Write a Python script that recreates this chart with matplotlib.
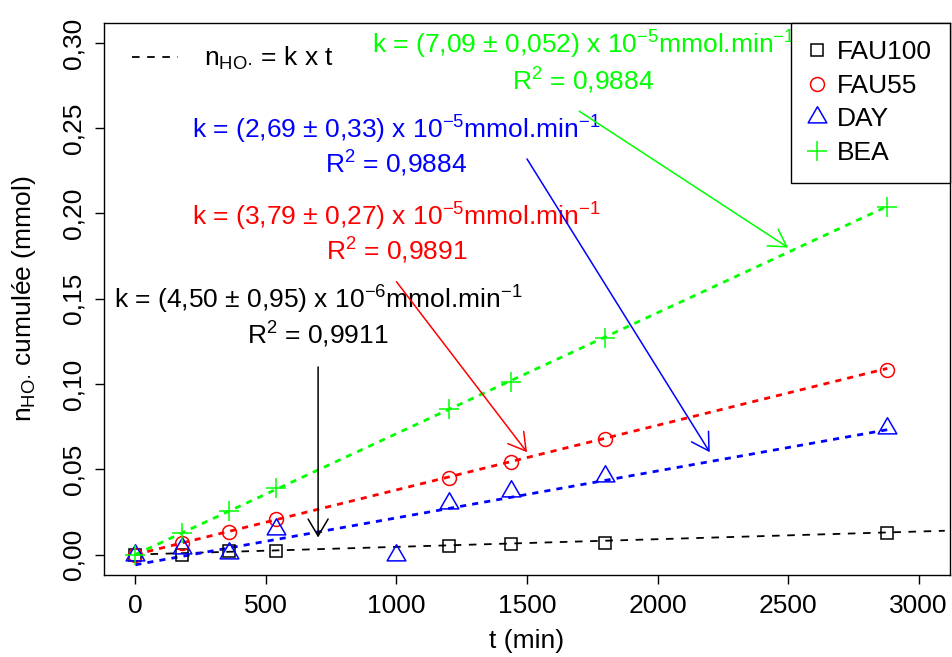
import matplotlib
matplotlib.use('Agg')
import matplotlib.pyplot as plt
from matplotlib.lines import Line2D
from matplotlib.path import Path
import numpy as np

plt.rcParams['font.family'] = ['Liberation Sans', 'DejaVu Sans']
plt.rcParams['mathtext.fontset'] = 'custom'
plt.rcParams['mathtext.rm'] = 'Liberation Sans'
plt.rcParams['mathtext.it'] = 'Liberation Sans:italic'
plt.rcParams['mathtext.bf'] = 'Liberation Sans:bold'
plt.rcParams['mathtext.sf'] = 'Liberation Sans'
plt.rcParams['axes.unicode_minus'] = True

# ---------------- data ----------------
t = [0, 180, 360, 540, 1200, 1440, 1800, 2880]
t_day = [0, 180, 360, 540, 1000, 1200, 1440, 1800, 2880]
fau100 = [0.000, 0.000, 0.002, 0.002, 0.005, 0.006, 0.007, 0.0125]
fau55 = [0.000, 0.0066, 0.013, 0.021, 0.045, 0.054, 0.0675, 0.108]
day = [0.000, 0.004, 0.001, 0.0147, 0.000, 0.030, 0.037, 0.046, 0.074]
bea = [0.000, 0.0127, 0.0254, 0.039, 0.0855, 0.101, 0.127, 0.204]

series_names = ['FAU100', 'FAU55', 'DAY', 'BEA']
series_colors = ['black', '#FF0000', '#0000FF', '#00FF00']

# fitted lines n = k*t (+ offset)
fit_slope = [4.5e-6, 3.79e-5, 2.75e-5, 7.09e-5]
fit_intercept = [0.0, 0.0, -0.006, 0.0]
fit_tmax = [3100, 2880, 2880, 2880]

k_labels = [r'k = (4,50 ± 0,95) x 10$^{-6}$mmol.min$^{-1}$',
            r'k = (3,79 ± 0,27) x 10$^{-5}$mmol.min$^{-1}$',
            r'k = (2,69 ± 0,33) x 10$^{-5}$mmol.min$^{-1}$',
            r'k = (7,09 ± 0,052) x 10$^{-5}$mmol.min$^{-1}$']
r2_labels = [r'R$^{2}$ = 0,9911', r'R$^{2}$ = 0,9891',
             r'R$^{2}$ = 0,9884', r'R$^{2}$ = 0,9884']
text_x = [700, 1000, 1000, 1715]
text_y1 = [0.1443, 0.1930, 0.2440, 0.2938]
text_y2 = [0.1232, 0.1724, 0.2234, 0.2721]
arrow_from = [(700, 0.11), (1000, 0.16), (1500, 0.232), (1700, 0.26)]
arrow_to = [(700, 0.01), (1500, 0.06), (2200, 0.06), (2500, 0.18)]

xticks = [0, 500, 1000, 1500, 2000, 2500, 3000]
yticks = [0.00, 0.05, 0.10, 0.15, 0.20, 0.25, 0.30]
ytick_labels = ['0,00', '0,05', '0,10', '0,15', '0,20', '0,25', '0,30']

# ---------------- figure ----------------
FS = 19
fig = plt.figure(figsize=(9.53, 6.57), dpi=100)
ax = fig.add_axes([104/953, 82/657, 846/953, 552.5/657])

tri = Path([(0, 1), (-0.866, -0.5), (0.866, -0.5), (0, 1)],
           [Path.MOVETO, Path.LINETO, Path.LINETO, Path.CLOSEPOLY])
markers = ['s', 'o', tri, '+']
msizes = [9.2, 10.0, 15.5, 14.5]
xs = [t, t, t_day, t]
ys = [fau100, fau55, day, bea]

handles = []
for i in range(4):
    h, = ax.plot(xs[i], ys[i], linestyle='none', marker=markers[i],
                 ms=msizes[i], mfc='none', mec=series_colors[i], mew=1.1,
                 label=series_names[i], zorder=3)
    handles.append(h)

for i in range(4):
    tt = np.array([0, fit_tmax[i]])
    yy = fit_intercept[i] + fit_slope[i] * tt
    if i == 0:
        ax.plot(tt, yy, color=series_colors[i], lw=1.3, dashes=(4.2, 4.2),
                zorder=2)
    else:
        ax.plot(tt, yy, color=series_colors[i], lw=2.0, dashes=(2.2, 2.2),
                zorder=2)

for i in range(4):
    c = series_colors[i]
    ax.text(text_x[i], text_y1[i], k_labels[i], color=c, fontsize=FS,
            ha='center', va='baseline')
    ax.text(text_x[i], text_y2[i], r2_labels[i], color=c, fontsize=FS,
            ha='center', va='baseline')
    ax.annotate('', xy=arrow_to[i], xytext=arrow_from[i],
                arrowprops=dict(arrowstyle='->,head_length=0.61,head_width=0.36',
                                color=c, lw=1.1, shrinkA=0, shrinkB=0,
                                mutation_scale=20))

ax.set_xlim(-120, 3120)
ax.set_ylim(-0.012, 0.312)
ax.set_xticks(xticks)
ax.set_xticklabels([str(v) for v in xticks])
ax.set_yticks(yticks)
ax.set_yticklabels(ytick_labels, rotation=90, va='center')
ax.tick_params(axis='both', labelsize=FS, length=6.5, width=1.0, pad=7,
               direction='out', color='black')
for s in ax.spines.values():
    s.set_linewidth(1.0)

ax.set_xlabel('t (min)', fontsize=FS, labelpad=8)
ax.set_ylabel(r'n$_{\mathregular{HO·}}$ cumulée (mmol)', fontsize=FS,
              labelpad=17)

leg = ax.legend(handles=handles, loc='upper right', fontsize=FS,
                frameon=True, fancybox=False, edgecolor='black',
                framealpha=1, borderaxespad=0, borderpad=0.68,
                labelspacing=0.36, handlelength=0.6, handletextpad=0.45,
                numpoints=1)
leg.get_frame().set_linewidth(1.0)
ax.add_artist(leg)

h2 = Line2D([], [], color='black', lw=1.3, dashes=(4.2, 4.2))
leg2 = ax.legend(handles=[h2], labels=[r'n$_{\mathregular{HO·}}$ = k x t'],
                 loc='upper left', fontsize=FS, frameon=False,
                 bbox_to_anchor=(0.006, 1.0), borderaxespad=0.45,
                 handlelength=1.75, handletextpad=1.0)

fig.savefig('out.png', dpi=100)
